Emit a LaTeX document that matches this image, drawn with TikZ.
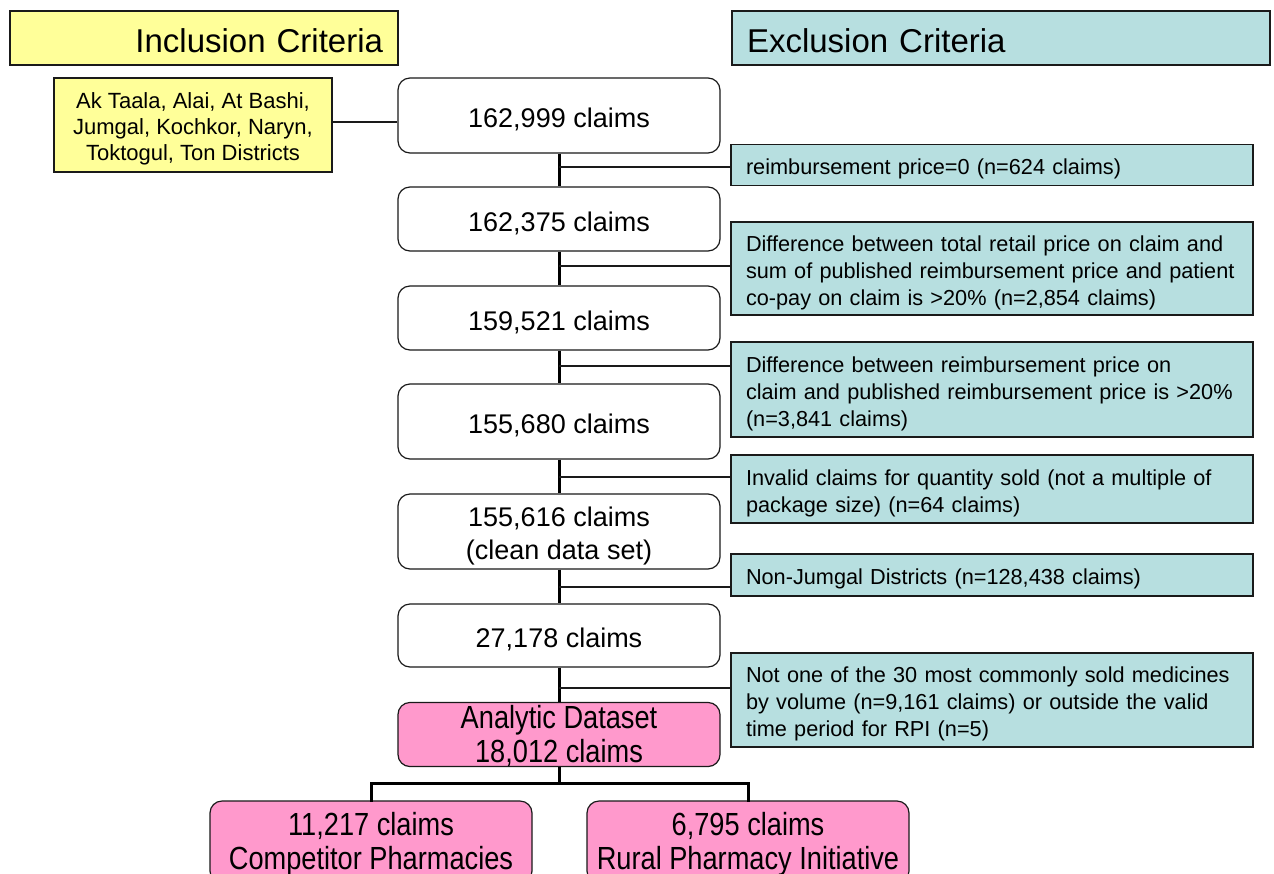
\documentclass[tikz,border=0pt]{standalone}
\usepackage{fontspec}
\setmainfont{Liberation Sans}
\newfontfamily\narrowfont[FakeStretch=0.85]{Liberation Sans}
\definecolor{inclfill}{HTML}{FFFF99}
\definecolor{exclfill}{HTML}{B7DFE0}
\definecolor{pinkfill}{HTML}{FF99CC}
\definecolor{edge}{HTML}{1A1A1A}
\newcommand\liftA{\rule{0pt}{28pt}}% claim boxes (27pt)
\newcommand\liftB{\rule{0pt}{24pt}}% 22pt texts
\newcommand\liftC{\rule{0pt}{30pt}}% titles (33pt)
\newcommand\liftD{\rule{0pt}{28pt}}% pink boxes
\begin{document}
\begin{tikzpicture}[x=1pt,y=-1pt,
  claimbox/.style={draw=edge, line width=1.2pt, rounded corners=12pt, minimum width=322pt,
    minimum height=#1, inner sep=0pt, align=center, font=\fontsize{27}{33}\selectfont},
  pinkbox/.style={claimbox=#1, fill=pinkfill, font=\narrowfont\fontsize{32}{34}\selectfont},
  exbox/.style={draw=edge, fill=exclfill, line width=1.2pt, minimum height=#1,
    inner xsep=15pt, inner ysep=0pt, text width=492pt, align=left,
    font=\fontsize{21.7}{27}\selectfont},
  titlebox/.style={draw=edge, line width=1.2pt, minimum height=54pt, inner xsep=15pt,
    inner ysep=0pt, font=\fontsize{33}{38}\selectfont},
  mainline/.style={draw=black, line width=3pt},
  conn/.style={draw=edge, line width=1.2pt}
]
\path[use as bounding box, fill=white] (0,0) rectangle (1274,873);

% titles
\node[titlebox, fill=inclfill, text width=358pt, align=right] (incl) at (204,38) {\liftC Inclusion Criteria};
\node[titlebox, fill=exclfill, text width=508pt, align=left] (excl) at (1001,38) {\liftC Exclusion Criteria};

% districts
\node[draw=edge, fill=inclfill, line width=1.2pt, minimum width=278pt, minimum height=94pt,
  inner sep=0pt, align=center, font=\fontsize{22}{26}\selectfont] (dist) at (193,125)
  {\liftB Ak Taala, Alai, At Bashi,\\Jumgal, Kochkor, Naryn,\\Toktogul, Ton Districts};

% claim boxes
\node[claimbox=75pt] (b1) at (559,115.5) {\liftA 162,999 claims};
\node[claimbox=64pt] (b2) at (559,219) {\liftA 162,375 claims};
\node[claimbox=64pt] (b3) at (559,318) {\liftA 159,521 claims};
\node[claimbox=75pt] (b4) at (559,421.5) {\liftA 155,680 claims};
\node[claimbox=75pt] (b5) at (559,531.5) {\liftA 155,616 claims\\(clean data set)};
\node[claimbox=63pt] (b6) at (559,635.5) {\liftA 27,178 claims};
\node[pinkbox=63pt] (ana) at (559,734.5) {\rule{0pt}{26pt}Analytic Dataset\\18,012 claims};
\node[pinkbox=82pt] (comp) at (371,842) {\liftD 11,217 claims\\Competitor Pharmacies};
\node[pinkbox=82pt] (rural) at (748,842) {\liftD 6,795 claims\\Rural Pharmacy Initiative};

% exclusion boxes
\node[exbox=41pt] (e1) at (992,165) {\liftB reimbursement price=0 (n=624 claims)};
\node[exbox=93pt] (e2) at (992,268.5) {\liftB\mbox{Difference between total retail price on claim and}\\\mbox{sum of published reimbursement price and patient}\\\mbox{co-pay on claim is >20\% (n=2,854 claims)}};
\node[exbox=95pt] (e3) at (992,389.5) {\liftB\mbox{Difference between reimbursement price on}\\\mbox{claim and published reimbursement price is >20\%}\\\mbox{(n=3,841 claims)}};
\node[exbox=68pt] (e4) at (992,489) {\liftB\mbox{Invalid claims for quantity sold (not a multiple of}\\\mbox{package size) (n=64 claims)}};
\node[exbox=42pt] (e5) at (992,575) {\liftB Non-Jumgal Districts (n=128,438 claims)};
\node[exbox=94pt] (e6) at (992,700) {\liftB\mbox{Not one of the 30 most commonly sold medicines}\\\mbox{by volume (n=9,161 claims) or outside the valid}\\\mbox{time period for RPI (n=5)}};

% main flow
\draw[mainline] (b1.south) -- (b2.north);
\draw[mainline] (b2.south) -- (b3.north);
\draw[mainline] (b3.south) -- (b4.north);
\draw[mainline] (b4.south) -- (b5.north);
\draw[mainline] (b5.south) -- (b6.north);
\draw[mainline] (b6.south) -- (ana.north);
\coordinate (split) at (559,783);
\draw[mainline] (ana.south) -- (split);
\draw[mainline, line cap=rect] (comp.north) |- (split) -| (rural.north);

% exclusion connectors
\coordinate (j1) at (559,167);
\coordinate (j2) at (559,266);
\coordinate (j3) at (559,366);
\coordinate (j4) at (559,477);
\coordinate (j5) at (559,587);
\coordinate (j6) at (559,688);
\draw[conn] (j1) -- (j1 -| e1.west);
\draw[conn] (j2) -- (j2 -| e2.west);
\draw[conn] (j3) -- (j3 -| e3.west);
\draw[conn] (j4) -- (j4 -| e4.west);
\draw[conn] (j5) -- (j5 -| e5.west);
\draw[conn] (j6) -- (j6 -| e6.west);

% inclusion connector
\coordinate (dj) at (332,122);
\draw[conn] (dj) -- (dj -| b1.west);
\end{tikzpicture}
\end{document}
